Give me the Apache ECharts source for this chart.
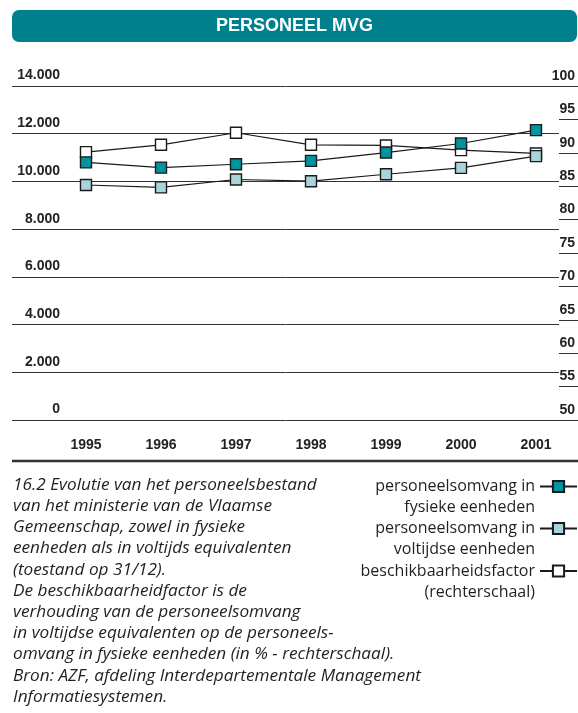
<!DOCTYPE html>
<html>
<head>
<meta charset="utf-8">
<script src="https://cdn.jsdelivr.net/npm/echarts@6/dist/echarts.min.js"></script>
<style>
html,body{margin:0;padding:0;background:#fff;}
#c{width:578px;height:713px;}
</style>
</head>
<body>
<div id="c"></div>
<script>
// ---- data ----
var years = ['1995', '1996', '1997', '1998', '1999', '2000', '2001'];
var fysiekeEenheden = [10800, 10580, 10720, 10860, 11210, 11590, 12150];
var voltijdseEenheden = [9850, 9750, 10080, 10010, 10300, 10570, 11060];
var beschikbaarheidsfactor = [90.1, 91.2, 93.0, 91.2, 91.1, 90.4, 89.9];
var seriesNames = ['personeelsomvang in\nfysieke eenheden', 'personeelsomvang in\nvoltijdse eenheden', 'beschikbaarheidsfactor\n(rechterschaal)'];
var leftTicks = {min: 0, max: 14000, interval: 2000};
var rightTicks = {min: 50, max: 100, interval: 5};
var titleText = 'PERSONEEL MVG';
var captionLines = [
  '16.2 Evolutie van het personeelsbestand',
  'van het ministerie van de Vlaamse',
  'Gemeenschap, zowel in fysieke',
  'eenheden als in voltijds equivalenten',
  '(toestand op 31/12).',
  'De beschikbaarheidfactor is de',
  'verhouding van de personeelsomvang',
  'in voltijdse equivalenten op de personeels-',
  'omvang in fysieke eenheden (in % - rechterschaal).',
  'Bron: AZF, afdeling Interdepartementale Management',
  'Informatiesystemen.'
];

var BOLD = '"Liberation Sans", Arial, sans-serif';
var TXT = '"Open Sans", "Noto Sans", sans-serif';
var LINE = '#333333';
var TEAL = '#00959e';
var LIGHT = '#a9d5da';
var GT = 86, GH = 334;
var LH = 21.2;

var chart = echarts.init(document.getElementById('c'), null, {renderer: 'canvas'});

function fmtLeft(v) {
  var s = (v === 0) ? '0' : (v / 1000) + '.000';
  return s + '\n ';
}

function legendFor(i, iconCenterY) {
  return {
    data: [seriesNames[i]],
    right: 0,
    top: iconCenterY - (LH * 3) / 2,
    orient: 'vertical',
    align: 'right',
    padding: 0,
    itemWidth: 37,
    itemHeight: 14,
    selectedMode: false,
    formatter: function (name) { return ' \n' + name; },
    textStyle: {
      fontFamily: TXT, fontSize: 16, color: '#231f20',
      lineHeight: LH
    }
  };
}

var option = {
  animation: false,
  backgroundColor: '#fff',
  grid: [
    {left: 12, top: GT, width: 547, height: GH, containLabel: false},
    {left: 48.5, top: GT, width: 525, height: GH, containLabel: false},
    {left: 559, top: GT, width: 19, height: GH, containLabel: false}
  ],
  xAxis: [
    {gridIndex: 0, type: 'category', data: years, show: false},
    {
      gridIndex: 1, type: 'category', data: years, boundaryGap: true,
      axisLine: {show: false}, axisTick: {show: false},
      axisLabel: {fontFamily: BOLD, fontWeight: 'bold', fontSize: 14, color: '#222', margin: 18}
    },
    {gridIndex: 2, type: 'category', data: years, show: false}
  ],
  yAxis: [
    {
      gridIndex: 0, type: 'value', position: 'left',
      min: leftTicks.min, max: leftTicks.max, interval: leftTicks.interval,
      axisLine: {show: false}, axisTick: {show: false},
      splitLine: {show: true, lineStyle: {color: LINE, width: 1}},
      axisLabel: {
        inside: true, margin: 48, align: 'right',
        lineHeight: 21, showMinLabel: true, showMaxLabel: true,
        fontFamily: BOLD, fontWeight: 'bold', fontSize: 14, color: '#222',
        formatter: fmtLeft
      }
    },
    {
      gridIndex: 0, type: 'value', position: 'right',
      min: rightTicks.min, max: rightTicks.max, interval: rightTicks.interval,
      axisLine: {show: false}, axisTick: {show: false},
      splitLine: {show: false},
      axisLabel: {
        margin: 16, align: 'right', verticalAlign: 'bottom',
        lineHeight: 20, showMinLabel: true, showMaxLabel: true,
        fontFamily: BOLD, fontWeight: 'bold', fontSize: 14, color: '#222'
      }
    },
    {gridIndex: 1, type: 'value', min: leftTicks.min, max: leftTicks.max, show: false, splitLine: {show: false}},
    {gridIndex: 1, type: 'value', min: rightTicks.min, max: rightTicks.max, show: false, splitLine: {show: false}},
    {
      gridIndex: 2, type: 'value', min: rightTicks.min, max: rightTicks.max, interval: rightTicks.interval,
      axisLine: {show: false}, axisTick: {show: false}, axisLabel: {show: false},
      splitLine: {show: true, lineStyle: {color: LINE, width: 1}}
    }
  ],
  legend: [
    legendFor(0, 486.5),
    legendFor(1, 528.5),
    legendFor(2, 571)
  ],
  series: [
    {
      name: seriesNames[2], type: 'line', xAxisIndex: 1, yAxisIndex: 3,
      data: beschikbaarheidsfactor, z: 2,
      symbol: 'rect', symbolSize: 11, showAllSymbol: true,
      lineStyle: {color: '#1a1a1a', width: 1.2},
      itemStyle: {color: '#ffffff', borderColor: '#1a1a1a', borderWidth: 1.4}
    },
    {
      name: seriesNames[0], type: 'line', xAxisIndex: 1, yAxisIndex: 2,
      data: fysiekeEenheden, z: 3,
      symbol: 'rect', symbolSize: 11, showAllSymbol: true,
      lineStyle: {color: '#1a1a1a', width: 1.2},
      itemStyle: {color: TEAL, borderColor: '#1a1a1a', borderWidth: 1.4}
    },
    {
      name: seriesNames[1], type: 'line', xAxisIndex: 1, yAxisIndex: 2,
      data: voltijdseEenheden, z: 4,
      symbol: 'rect', symbolSize: 11, showAllSymbol: true,
      lineStyle: {color: '#1a1a1a', width: 1.2},
      itemStyle: {color: LIGHT, borderColor: '#1a1a1a', borderWidth: 1.4}
    }
  ],
  graphic: [
    {
      type: 'rect', left: 12, top: 10, z: 10,
      shape: {width: 565, height: 32, r: 7},
      style: {fill: '#00808d'}
    },
    {
      type: 'text', x: 294.5, y: 26.5, z: 11,
      style: {
        text: titleText, fill: '#fff', align: 'center', verticalAlign: 'middle',
        font: 'bold 18px ' + BOLD
      }
    },
    {
      type: 'line', z: 10,
      shape: {x1: 12, y1: 461, x2: 578, y2: 461},
      style: {stroke: '#333', lineWidth: 2.5}
    },
    {
      type: 'text', x: 13, y: 485 - LH / 2, z: 10,
      style: {
        text: captionLines.join('\n'), fill: '#231f20', align: 'left', verticalAlign: 'top',
        font: 'italic 17.2px ' + TXT, lineHeight: LH
      }
    }
  ]
};
chart.setOption(option);
</script>
</body>
</html>
